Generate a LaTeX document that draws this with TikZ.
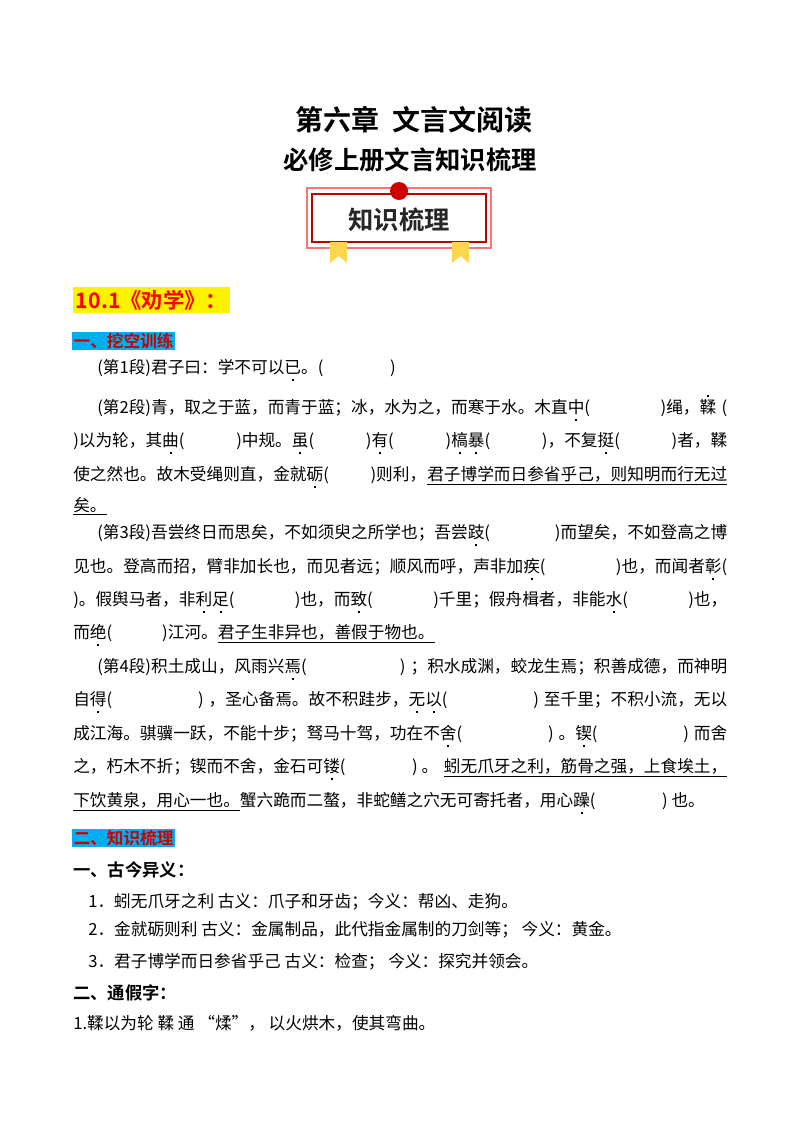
\documentclass[tikz,border=0pt]{standalone}
\usepackage{fontspec}
\setmainfont{Noto Sans CJK SC}
\newfontfamily\cjkb{Noto Sans CJK SC Bold}
\XeTeXlinebreaklocale "zh"
\XeTeXlinebreakskip=0pt plus 4pt
\newcommand\zd[1]{\rlap{\makebox[1em]{\raisebox{-0.42em}{\rule{1.5pt}{1.5pt}}}}#1}
\newcommand\zu[1]{\rlap{\makebox[1em]{\raisebox{1.0em}{\rule{1.5pt}{1.5pt}}}}#1}
\newcommand\bl[1][2.5]{\hspace{#1em plus 2em}}
\newcommand\jl[2]{\hbox to #1pt{#2}}
\begin{document}
\begin{tikzpicture}[x=0.75pt,y=-0.75pt,
  full/.style={anchor=west,inner sep=0,font=\fontsize{12.5}{14}\selectfont},
  last/.style={anchor=west,inner sep=0,font=\fontsize{12.5}{14}\selectfont},
  hd/.style={anchor=west,inner sep=1pt,font=\cjkb\fontsize{12.5}{14}\selectfont,text=red!80!black,fill=cyan},
  sub/.style={anchor=west,inner sep=0,font=\cjkb\fontsize{13}{16}\selectfont}]
\useasboundingbox (0,0) rectangle (800,1132);
\fill[white] (0,0) rectangle (800,1132);
% titles
\node[font=\cjkb\fontsize{21}{24}\selectfont] (t1) at (414,120) {第六章\ \ 文言文阅读};
\node[font=\cjkb\fontsize{19}{22}\selectfont] (t2) at (410,160) {必修上册文言知识梳理};
% badge
\draw[red!55,line width=0.9pt] (307,188) rectangle (491,248);
\draw[red!75!black,line width=0.9pt] (312,194) rectangle (486,242);
\fill[yellow!60!orange!70] (330,242) -- (347,242) -- (347,263) -- (338.5,256) -- (330,263) -- cycle;
\fill[yellow!60!orange!70] (452,242) -- (469,242) -- (469,263) -- (460.5,256) -- (452,263) -- cycle;
\fill[red!80!black] (399,191) circle (9);
\node[font=\cjkb\fontsize{19}{22}\selectfont,text=black!85] (badge) at (399,220) {知识梳理};
% section heading
\node[anchor=west,inner sep=2pt,fill=yellow,text=red,font=\cjkb\fontsize{16}{18}\selectfont] (s1) at (73,300) {10.1《劝学》：\hspace{1.2em}};
\node[hd] (h1) at (72,341) {一、挖空训练};
% paragraph 1
\node[last] (p1) at (97,370) {(第1段)君子曰：学不可以\zd{已}。(\bl[4])};
% paragraph 2
\node[full] (p2a) at (97,408) {\jl{472.5}{(第2段)青，取之于蓝，而青于蓝；冰，水为之，而寒于水。木直\zd{中}(\bl)绳，\zu{鞣}\ (}};
\node[full] (p2b) at (73,443) {\jl{490.5}{)以为轮，其\zd{曲}(\bl)中规。\zd{虽}(\bl)\zd{有}(\bl)\zd{槁}\zd{暴}(\bl)，不复\zd{挺}(\bl)者，鞣}};
\node[full] (p2c) at (73,477) {\jl{490.5}{使之然也。故木受绳则直，金就\zd{砺}(\bl)则利，\hfil\underline{君子博学而日参省乎己，则知明而行无过}}};
\node[last] (p2d) at (73,506) {\underline{矣。}};
% paragraph 3
\node[full] (p3a) at (97,535) {\jl{472.5}{(第3段)吾尝终日而思矣，不如须臾之所学也；吾尝\zd{跂}(\bl[3])而望矣，不如登高之博}};
\node[full] (p3b) at (73,569) {\jl{490.5}{见也。登高而招，臂非加长也，而见者远；顺风而呼，声非加\zd{疾}(\bl[3])也，而闻者\zd{彰}(}};
\node[full] (p3c) at (73,602) {\jl{490.5}{)。假舆马者，非\zd{利}\zd{足}(\bl[3])也，而\zd{致}(\bl[3])千里；假舟楫者，非能\zd{水}(\bl[3])也，}};
\node[last] (p3d) at (73,635) {而\zd{绝}(\bl[3])江河。\underline{君子生非异也，善假于物也。}};
% paragraph 4
\node[full] (p4a) at (97,669) {\jl{472.5}{(第4段)积土成山，风雨兴\zd{焉}(\bl[4])\ ；积水成渊，蛟龙生焉；积善成德，而神明}};
\node[full] (p4b) at (73,702) {\jl{490.5}{自\zd{得}(\bl[4])\ ，圣心备焉。故不积跬步，\zd{无}\zd{以}(\bl[4])\ 至千里；不积小流，无以}};
\node[full] (p4c) at (73,736) {\jl{490.5}{成江海。骐骥一跃，不能十步；驽马十驾，功在不\zd{舍}(\bl[4])\ 。\zd{锲}(\bl[4])\ 而舍}};
\node[full] (p4d) at (73,769) {\jl{490.5}{之，朽木不折；锲而不舍，金石可\zd{镂}(\bl[4])\ 。\hfil\underline{蚓无爪牙之利，筋骨之强，上食埃土，}}};
\node[last] (p4e) at (73,803) {\underline{下饮黄泉，用心一也。}蟹六跪而二螯，非蛇鳝之穴无可寄托者，用心\zd{躁}(\bl[4])\ 也。};
% knowledge
\node[hd] (h2) at (72,838) {二、知识梳理};
\node[sub] (g1) at (73,870) {一、古今异义：};
\node[last] (i1) at (88,902) {1．蚓无爪牙之利\ 古义：爪子和牙齿；今义：帮凶、走狗。};
\node[last] (i2) at (88,930) {2．金就砺则利\ 古义：金属制品，此代指金属制的刀剑等；\ 今义：黄金。};
\node[last] (i3) at (88,962) {3．君子博学而日参省乎己\ 古义：检查；\ 今义：探究并领会。};
\node[sub] (g2) at (73,993) {二、通假字：};
\node[last] (i4) at (73,1023) {1.鞣以为轮\ 鞣\ 通\ “煣”，\ 以火烘木，使其弯曲。};
\end{tikzpicture}
\end{document}
